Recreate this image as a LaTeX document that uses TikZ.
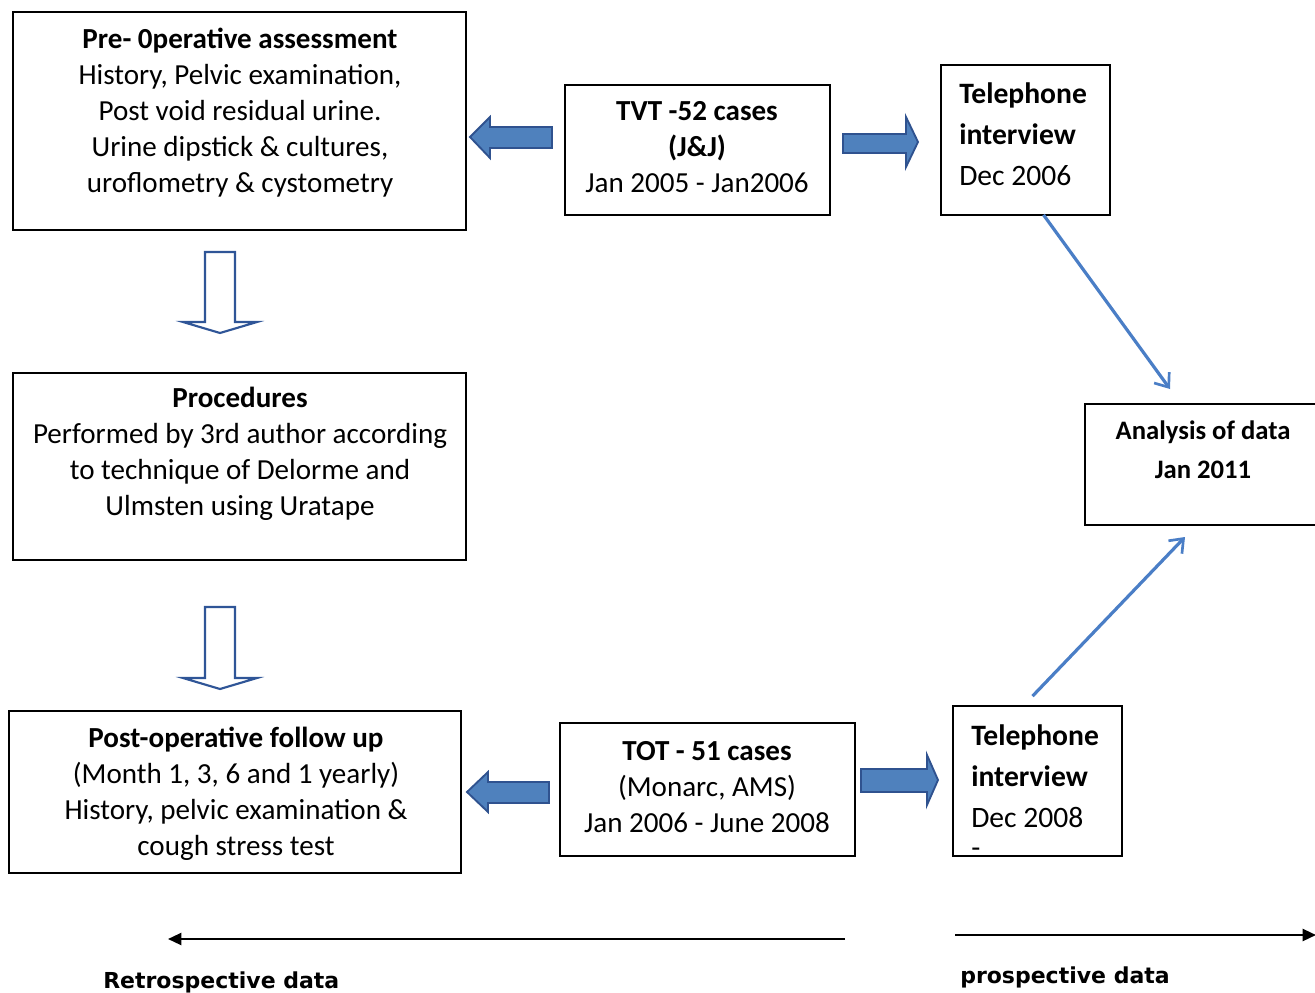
\documentclass[tikz,border=0pt]{standalone}
\usepackage{fontspec}
\setmainfont{Carlito}
\newfontfamily\labfont{DejaVu Sans}
\usetikzlibrary{arrows.meta,calc,fit}
\definecolor{blockfill}{HTML}{4F81BD}
\definecolor{blockline}{HTML}{2F528F}
\definecolor{thinblue}{HTML}{4A7EC6}
\definecolor{hollowline}{HTML}{2F5597}
\begin{document}
\begin{tikzpicture}[x=0.75pt,y=-0.75pt,
  box/.style={draw=black, line width=1.3pt, inner sep=0pt},
  txt/.style={align=center, inner sep=0pt, font=\fontsize{21.8}{27}\selectfont},
  teltxt/.style={align=left, anchor=west, inner sep=0pt, font=\fontsize{22.2}{30.75}\selectfont},
  blockarrow/.style={fill=blockfill, draw=blockline, line width=1.4pt, line join=miter},
  hollowarrow/.style={fill=white, draw=hollowline, line width=1.6pt, line join=miter},
  thinarrow/.style={draw=thinblue, line width=2.4pt, -{Straight Barb[length=9pt,width=14pt,line width=2pt]}},
  timearrow/.style={draw=black, line width=1.7pt, -{Triangle[length=10pt,width=9pt]}},
  timelabel/.style={anchor=west, inner sep=0pt, font=\labfont\bfseries\fontsize{16.5}{18}\selectfont}
]
\useasboundingbox (0,0) rectangle (1315,993);

% boxes
\node[box, fit={(13,12) (466,230)}] (pre) {};
\node[box, fit={(565,85) (830,215)}] (tvt) {};
\node[box, fit={(941,65) (1110,215)}] (tel1) {};
\node[box, fit={(13,373) (466,560)}] (proc) {};
\node[box, fit={(1085,404) (1316,525)}] (ana) {};
\node[box, fit={(9,711) (461,873)}] (post) {};
\node[box, fit={(560,723) (855,856)}] (tot) {};
\node[box, fit={(953,706) (1122,856)}] (tel2) {};

% texts
\node[txt] (pretxt) at (240,113) {\textbf{Pre- 0perative assessment}\\History, Pelvic examination,\\Post void residual urine.\\Urine dipstick \& cultures,\\uroflometry \& cystometry};
\node[txt] (tvttxt) at (697,147) {\textbf{TVT -52 cases}\\\textbf{(J\&J)}\\Jan 2005 - Jan2006};
\node[teltxt] (tel1txt) at (959,134) {\textbf{Telephone}\\\textbf{interview}\\Dec 2006};
\node[txt] (proctxt) at (240,454) {\textbf{Procedures}\\Performed by 3rd author according\\to technique of Delorme and\\Ulmsten using Uratape};
\node[txt, font=\fontsize{20}{29}\selectfont] (anatxt) at (1203,450) {\textbf{Analysis of data}\\\textbf{Jan 2011}};
\node[txt] (posttxt) at (236,794) {\textbf{Post-operative follow up}\\(Month 1, 3, 6 and 1 yearly)\\History, pelvic examination \&\\cough stress test};
\node[txt] (tottxt) at (707,787) {\textbf{TOT - 51 cases}\\(Monarc, AMS)\\Jan 2006 - June 2008};
\node[teltxt] (tel2txt) at (971,791) {\textbf{Telephone}\\\textbf{interview}\\Dec 2008\\[-8pt]-};

% block arrows (top row)
\draw[blockarrow] (552,127) -- (490,127) -- (490,117) -- (470,137) -- (490,158) -- (490,148) -- (552,148) -- cycle;
\draw[blockarrow] (843,134) -- (906,134) -- (906,117) -- (918,142) -- (906,167) -- (906,153) -- (843,153) -- cycle;
% block arrows (bottom row)
\draw[blockarrow] (549,782) -- (488,782) -- (488,772) -- (467,792) -- (488,812) -- (488,803) -- (549,803) -- cycle;
\draw[blockarrow] (861,769) -- (927,769) -- (927,755) -- (938,780) -- (927,805) -- (927,792) -- (861,792) -- cycle;

% hollow down arrows
\draw[hollowarrow] (205,252) -- (235,252) -- (235,322) -- (257,322) -- (220,333) -- (183,322) -- (205,322) -- cycle;
\draw[hollowarrow] (205,607) -- (235,607) -- (235,678) -- (257,678) -- (220,689) -- (183,678) -- (205,678) -- cycle;

% thin connectors
\coordinate (a1) at (1170,389);
\coordinate (a2) at (1185,537);
\draw[thinarrow] ($(tel1.south)+(18,-1)$) -- (a1);
\draw[thinarrow] ($(tel2.north)+(-5,-9)$) -- (a2);

% time arrows
\coordinate (r1) at (845,939);
\coordinate (r2) at (168,939);
\coordinate (p1) at (955,935);
\coordinate (p2) at (1316,935);
\draw[timearrow] (r1) -- (r2);
\draw[timearrow] (p1) -- (p2);
\node[timelabel] (retro) at (103,982) {Retrospective data};
\node[timelabel] (prosp) at (960,977) {prospective data};
\end{tikzpicture}
\end{document}
